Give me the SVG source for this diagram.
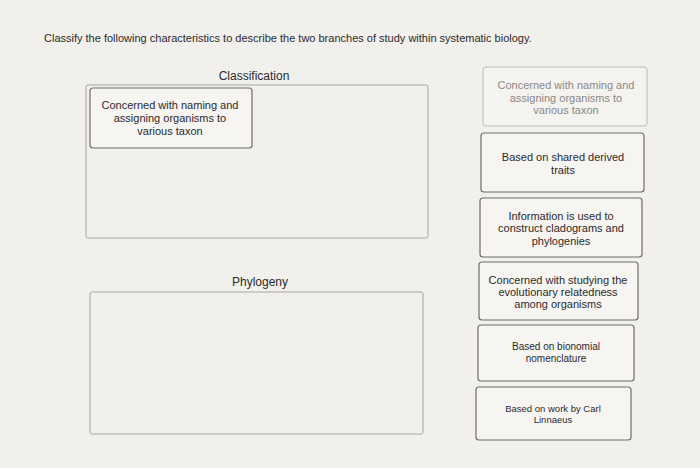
<svg xmlns="http://www.w3.org/2000/svg" width="700" height="468" viewBox="0 0 700 468">
<style>
text{font-family:"Liberation Sans",Arial,sans-serif;fill:#2a2a2a;text-anchor:middle}
.t{font-size:11px}
.h{font-size:12px}
.zone{fill:none;stroke:#a8a6a2;stroke-width:1}
.card{fill:#f7f5f2;stroke:#6e6c69;stroke-width:1.2}
.faded{fill:#f5f3f0;stroke:#bdbbb7;stroke-width:1}
.faded+text, .ft{fill:#8a8885}
</style>
<rect width="700" height="468" fill="#f2f0ed"/>
<text x="44" y="42" style="text-anchor:start;font-size:11px">Classify the following characteristics to describe the two branches of study within systematic biology.</text>
<g id="classification">
<text class="h" x="254" y="80">Classification</text>
<rect class="zone" x="86" y="85" width="342" height="153" rx="2"/>
</g>
<g id="phylogeny">
<text class="h" x="260" y="286">Phylogeny</text>
<rect class="zone" x="90" y="292" width="333" height="142" rx="2"/>
</g>
<g id="placed-card">
<rect class="card" x="90" y="88" width="162" height="60" rx="3"/>
<text class="t" x="170" y="109">Concerned with naming and</text>
<text class="t" x="170" y="122">assigning organisms to</text>
<text class="t" x="170" y="135">various taxon</text>
</g>
<g id="card1">
<rect class="faded" x="483" y="67" width="164" height="59" rx="3"/>
<text class="t ft" x="566" y="89">Concerned with naming and</text>
<text class="t ft" x="566" y="102">assigning organisms to</text>
<text class="t ft" x="566" y="114">various taxon</text>
</g>
<g id="card2">
<rect class="card" x="481" y="133" width="163" height="59" rx="3"/>
<text class="t" x="563" y="161">Based on shared derived</text>
<text class="t" x="563" y="174">traits</text>
</g>
<g id="card3">
<rect class="card" x="480" y="198" width="162" height="59" rx="3"/>
<text class="t" x="561" y="220">Information is used to</text>
<text class="t" x="561" y="232">construct cladograms and</text>
<text class="t" x="561" y="245">phylogenies</text>
</g>
<g id="card4">
<rect class="card" x="479" y="262" width="159" height="58" rx="3"/>
<text class="t" x="558" y="284">Concerned with studying the</text>
<text class="t" x="558" y="296">evolutionary relatedness</text>
<text class="t" x="558" y="308">among organisms</text>
</g>
<g id="card5">
<rect class="card" x="478" y="325" width="156" height="56" rx="3"/>
<text class="t" x="556" y="350" style="font-size:10px">Based on bionomial</text>
<text class="t" x="556" y="362" style="font-size:10px">nomenclature</text>
</g>
<g id="card6">
<rect class="card" x="476" y="387" width="155" height="53" rx="3"/>
<text class="t" x="553" y="412" style="font-size:9.5px">Based on work by Carl</text>
<text class="t" x="553" y="423" style="font-size:9.5px">Linnaeus</text>
</g>
<g id="connectors"/>
</svg>
